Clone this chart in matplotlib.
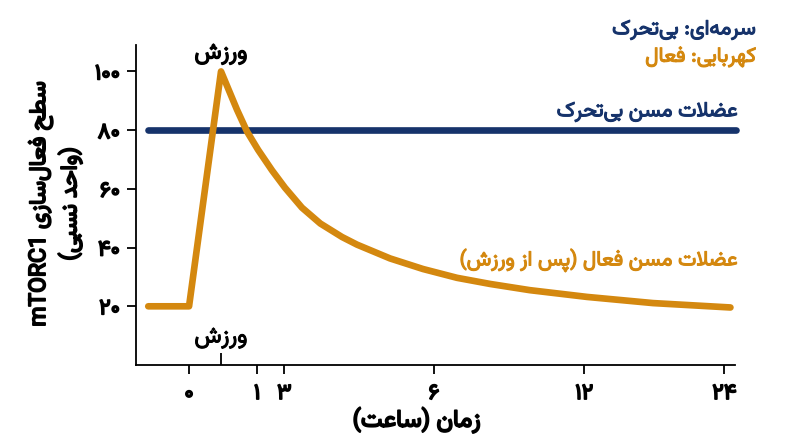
import re
import matplotlib
matplotlib.use('Agg')
import matplotlib.pyplot as plt
from matplotlib import font_manager
from matplotlib.font_manager import FontProperties
import matplotlib.patheffects as pe

# x is in drawn-axis units (the hour axis of the original is not to scale),
# 1 unit = gap between the "0" and "1" hour ticks
tick_pos = [0, 1.0, 1.4, 3.6, 5.81, 7.87]
tick_labels = ['۰', '۱', '۳', '۶', '۱۲', '۲۴']
exercise_pos = 0.47
y_ticks = [20, 40, 60, 80, 100]
y_labels = ['۲۰', '۴۰', '۶۰', '۸۰', '۱۰۰']

sed_x = [-0.6, 8.04]
sed_y = [80, 80]

act_x = [-0.6, 0.0, 0.47, 0.706, 0.853, 1.015, 1.22, 1.41, 1.66, 1.93,
         2.25, 2.47, 2.956, 3.44, 3.94, 4.43, 5.01, 5.85, 6.82, 7.96]
act_y = [20, 20, 100, 86.9, 79.5, 73.3, 66.3, 60.4, 53.6, 48.2,
         43.6, 41.0, 36.3, 32.7, 29.7, 27.6, 25.5, 23.2, 21.1, 19.6]

NAVY = '#16336b'
AMBER = '#d4880f'

# --- minimal persian shaping (matplotlib has no bidi / joining) ---
FORMS = {
    '\u0627': ('\uFE8D', '\uFE8E', None, None),
    '\u0628': ('\uFE8F', '\uFE90', '\uFE91', '\uFE92'),
    '\u062A': ('\uFE95', '\uFE96', '\uFE97', '\uFE98'),
    '\u062D': ('\uFEA1', '\uFEA2', '\uFEA3', '\uFEA4'),
    '\u062F': ('\uFEA9', '\uFEAA', None, None),
    '\u0631': ('\uFEAD', '\uFEAE', None, None),
    '\u0632': ('\uFEAF', '\uFEB0', None, None),
    '\u0633': ('\uFEB1', '\uFEB2', '\uFEB3', '\uFEB4'),
    '\u0634': ('\uFEB5', '\uFEB6', '\uFEB7', '\uFEB8'),
    '\u0636': ('\uFEBD', '\uFEBE', '\uFEBF', '\uFEC0'),
    '\u0637': ('\uFEC1', '\uFEC2', '\uFEC3', '\uFEC4'),
    '\u0639': ('\uFEC9', '\uFECA', '\uFECB', '\uFECC'),
    '\u0641': ('\uFED1', '\uFED2', '\uFED3', '\uFED4'),
    '\u0644': ('\uFEDD', '\uFEDE', '\uFEDF', '\uFEE0'),
    '\u0645': ('\uFEE1', '\uFEE2', '\uFEE3', '\uFEE4'),
    '\u0646': ('\uFEE5', '\uFEE6', '\uFEE7', '\uFEE8'),
    '\u0647': ('\uFEE9', '\uFEEA', '\uFEEB', '\uFEEC'),
    '\u0648': ('\uFEED', '\uFEEE', None, None),
    '\u067E': ('\uFB56', '\uFB57', '\uFB58', '\uFB59'),
    '\u06A9': ('\uFB8E', '\uFB8F', '\uFB90', '\uFB91'),
    '\u06CC': ('\uFBFC', '\uFBFD', '\uFBFE', '\uFBFF'),
}


def dual(c):
    return c in FORMS and FORMS[c][2] is not None


def shape(s):
    s = s.replace('\u064A', '\u06CC').replace('\u0643', '\u06A9')
    out = []
    i = 0
    while i < len(s):
        c = s[i]
        if c not in FORMS:
            if c != '\u200c':
                out.append(c)
            i += 1
            continue
        joined_prev = i > 0 and dual(s[i - 1])
        if c == '\u0644' and i + 1 < len(s) and s[i + 1] == '\u0627':
            out.append('\uFEFC' if joined_prev else '\uFEFB')
            i += 2
            continue
        joined_next = dual(c) and i + 1 < len(s) and s[i + 1] in FORMS
        iso, fin, ini, med = FORMS[c]
        if joined_prev and joined_next:
            out.append(med)
        elif joined_prev:
            out.append(fin)
        elif joined_next:
            out.append(ini)
        else:
            out.append(iso)
        i += 1
    vis = ''.join(out)[::-1]
    vis = re.sub(r'[A-Za-z0-9]+', lambda m: m.group(0)[::-1], vis)
    return vis.translate(str.maketrans('()', ')('))


vazir = [f.fname for f in font_manager.fontManager.ttflist if 'Vazirmatn' in f.fname]


def fprop(size):
    if vazir:
        return FontProperties(fname=vazir[0], size=size)
    return FontProperties(family='DejaVu Sans', size=size)


def bold(color, w=0.7):
    return [pe.withStroke(linewidth=w, foreground=color)]


fig = plt.figure(figsize=(8, 4.47), dpi=100)
ax = fig.add_axes([0.17, 0.1834, 0.749, 0.7159])

ax.plot(sed_x, sed_y, color=NAVY, lw=4.8, solid_capstyle='round', clip_on=False, zorder=3)
ax.plot(act_x, act_y, color=AMBER, lw=4.8, solid_capstyle='round',
        solid_joinstyle='round', clip_on=False, zorder=4)

ax.set_xlim(-0.78, 8.03)
ax.set_ylim(0, 109)
for s in ['top', 'right']:
    ax.spines[s].set_visible(False)
for s in ['left', 'bottom']:
    ax.spines[s].set_linewidth(1.3)

ax.set_xticks(tick_pos)
ax.set_xticklabels(tick_labels)
ax.set_xticks([exercise_pos], minor=True)
ax.set_yticks(y_ticks)
ax.set_yticklabels(y_labels)
ax.tick_params(which='major', direction='out', length=6.5, width=1.3, pad=5)
ax.tick_params(which='minor', axis='x', direction='in', length=9, width=1.3)
for lab in ax.get_xticklabels() + ax.get_yticklabels():
    lab.set_fontproperties(fprop(16))
    lab.set_path_effects(bold('black', 1.2))
ax.tick_params(axis='x', which='major', pad=6.5)

ax.text(exercise_pos, 105.9, shape('ورزش'), ha='center', va='center',
        fontproperties=fprop(16.5), path_effects=bold('black', 0.9))
ax.text(exercise_pos, 9.2, shape('ورزش'), ha='center', va='center',
        fontproperties=fprop(16.5), path_effects=bold('black', 0.7))
ax.text(8.07, 86.2, shape('عضلات مسن بی‌تحرک'), ha='right', va='center',
        color=NAVY, fontproperties=fprop(15), path_effects=bold(NAVY, 0.8), clip_on=False)
ax.text(8.07, 35.6, shape('عضلات مسن فعال (پس از ورزش)'), ha='right', va='center',
        color=AMBER, fontproperties=fprop(15), path_effects=bold(AMBER, 0.8), clip_on=False)

fig.text(0.945, 0.933, shape('سرمه‌ای: بی‌تحرک'), ha='right', va='center',
         color=NAVY, fontproperties=fprop(15), path_effects=bold(NAVY, 0.8))
fig.text(0.945, 0.873, shape('کهربایی: فعال'), ha='right', va='center',
         color=AMBER, fontproperties=fprop(15), path_effects=bold(AMBER, 0.8))

fig.text(0.521, 0.060, shape('زمان (ساعت)'), ha='center', va='center',
         fontproperties=fprop(17.5), path_effects=bold('black', 1.3))
fig.text(0.069, 0.5436, shape('سطح فعال‌سازی mTORC1') + '\n' + shape('(واحد نسبی)'),
         ha='center', va='center', rotation=90, multialignment='center',
         linespacing=1.3, fontproperties=fprop(16.5), path_effects=bold('black', 1.3))

fig.savefig('out.png', dpi=100)
